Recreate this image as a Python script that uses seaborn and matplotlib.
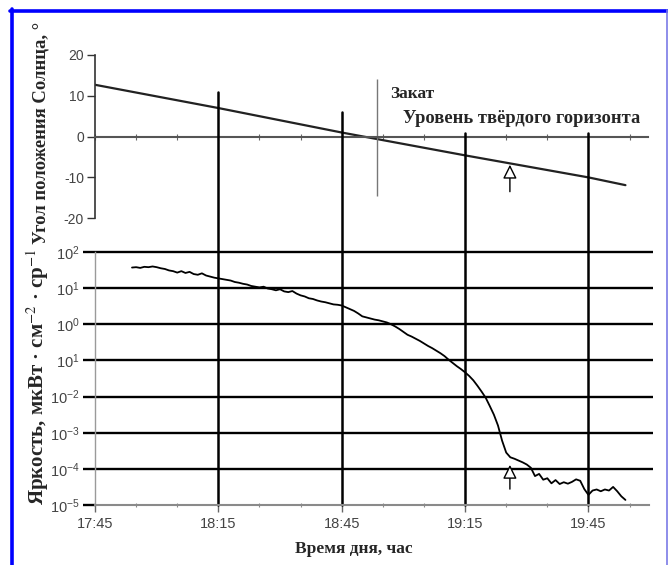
import matplotlib
matplotlib.use("Agg")
import matplotlib.pyplot as plt
import seaborn as sns
import pandas as pd
import numpy as np
from matplotlib.lines import Line2D
from matplotlib.ticker import FixedLocator, MultipleLocator, NullFormatter

# ---------------- data ----------------
time_tick_labels = ["17:45", "18:15", "18:45", "19:15", "19:45"]

# Sun elevation angle (degrees) vs time
sun_times = ["17:45", "18:15", "18:45", "19:15", "19:45", "19:54"]
sun_angle = [12.7, 7.0, 1.0, -4.6, -10.0, -11.9]
angle_ticks = [20, 10, 0, -10, -20]
angle_tick_labels = ["20", "10", "0", "-10", "-20"]

# Brightness: minutes after 17:45 and log10 of brightness
bright_min = [9, 10, 11, 12, 13, 14, 15, 16, 17, 18, 19, 20, 21, 22, 23, 24, 25, 26, 27, 28,
              29, 30, 31, 32, 33, 34, 35, 36, 37, 38, 39, 40, 41, 42, 43, 44, 45, 46, 47, 48,
              49, 50, 51, 52, 53, 54, 55, 56, 57, 58, 59, 60, 61, 62, 63, 64, 65, 66, 67, 68,
              69, 70, 71, 72, 73, 74, 75, 76, 77, 78, 79, 80, 81, 82, 83, 84, 85, 86, 87, 88,
              89, 90, 91, 92, 93, 94, 95, 96, 97, 98, 99, 100, 101, 102, 103, 104, 105, 106, 107, 108,
              109, 110, 111, 112, 113, 114, 115, 116, 117, 118, 119, 120, 121, 122, 123, 124, 125, 126, 127, 128,
              129]
bright_log10 = [1.57, 1.58, 1.56, 1.59, 1.58, 1.60, 1.58, 1.55, 1.53, 1.49, 1.47, 1.43, 1.47, 1.42, 1.45, 1.39, 1.37, 1.41, 1.35, 1.32,
                1.29, 1.27, 1.25, 1.23, 1.21, 1.17, 1.15, 1.12, 1.10, 1.06, 1.04, 1.02, 1.04, 0.99, 0.97, 0.94, 0.97, 0.91, 0.89, 0.92,
                0.85, 0.80, 0.77, 0.72, 0.70, 0.66, 0.63, 0.61, 0.58, 0.55, 0.54, 0.52, 0.47, 0.42, 0.37, 0.30, 0.22, 0.19, 0.16, 0.13,
                0.11, 0.08, 0.05, 0.00, -0.06, -0.13, -0.21, -0.29, -0.34, -0.40, -0.46, -0.53, -0.60, -0.66, -0.73, -0.80, -0.88, -0.98, -1.07, -1.16,
                -1.24, -1.33, -1.43, -1.55, -1.70, -1.86, -2.03, -2.26, -2.50, -2.80, -3.22, -3.55, -3.68, -3.72, -3.77, -3.82, -3.88, -3.97, -4.20, -4.14,
                -4.30, -4.26, -4.40, -4.31, -4.42, -4.37, -4.41, -4.36, -4.29, -4.33, -4.56, -4.72, -4.60, -4.57, -4.62, -4.57, -4.60, -4.50, -4.62, -4.76,
                -4.86]

decade_exponents = [2, 1, 0, -1, -2, -3, -4, -5]
bright_tick_labels = [r"$10^{2}$", r"$10^{1}$", r"$10^{0}$", r"$10^{1}$",
                      r"$10^{-2}$", r"$10^{-3}$", r"$10^{-4}$", r"$10^{-5}$"]

grid_times = ["18:15", "18:45", "19:15", "19:45"]
grid_top_angle = [10.9, 6.0, 0.8, 0.8]

sunset_min = 68.5
sunset_span = [14.2, -14.6]

arrow_min = 100.9
arrow_top = (-6.9, -13.5)            # tip, tail (degrees)
arrow_bot_log10 = (-3.89, -4.56)     # tip, tail (log10 brightness)


def to_min(s):
    h, m = s.split(":")
    return int(h) * 60 + int(m) - (17 * 60 + 45)


# ---------------- style ----------------
sns.set_style("white")
plt.rcParams["font.family"] = ["Liberation Sans", "DejaVu Sans"]
plt.rcParams["mathtext.fontset"] = "custom"
plt.rcParams["mathtext.rm"] = "Liberation Sans"
plt.rcParams["mathtext.it"] = "Liberation Sans:italic"
plt.rcParams["mathtext.bf"] = "Liberation Sans:bold"

SERIF = ["Liberation Serif", "DejaVu Serif"]
W, H = 668, 565
fig = plt.figure(figsize=(W / 100, H / 100), dpi=100)
fig.patch.set_facecolor("white")

XMAX = 135.7
ax_top = fig.add_axes([95 / W, 1 - 218.2 / H, 558 / W, 163.2 / H])
ax_bot = fig.add_axes([95 / W, 1 - 505 / H, 558 / W, 253 / H])

# ---------------- top panel ----------------
sun_df = pd.DataFrame({"t": [to_min(s) for s in sun_times], "angle": sun_angle})
sns.lineplot(data=sun_df, x="t", y="angle", ax=ax_top, color="#222222", lw=1.6, sort=True)
ax_top.set_xlim(0, XMAX)
ax_top.set_ylim(-20, 20)
for s in ["top", "right"]:
    ax_top.spines[s].set_visible(False)
ax_top.spines["left"].set_color("#333333")
ax_top.spines["left"].set_linewidth(1.2)
ax_top.spines["bottom"].set_position(("data", 0))
ax_top.spines["bottom"].set_color("#555555")
ax_top.spines["bottom"].set_linewidth(1.5)
ax_top.spines["bottom"].set_bounds(0, 134.4)
ax_top.set_yticks(angle_ticks)
ax_top.set_yticklabels(angle_tick_labels)
ax_top.tick_params(axis="y", length=6, width=1, color="#333333", labelcolor="#444444",
                   labelsize=10, pad=2, left=True)
ax_top.xaxis.set_major_locator(MultipleLocator(10))
ax_top.xaxis.set_major_formatter(NullFormatter())
ax_top.tick_params(axis="x", direction="inout", length=4, width=0.8, color="#666666", bottom=True)
ax_top.set_xlabel("")
ax_top.set_ylabel("Угол положения Солнца, °", fontfamily=SERIF, fontweight="bold", fontsize=13.4)
ax_top.yaxis.set_label_coords(-54 / 558, 0.525)
ax_top.yaxis.label.set_verticalalignment("center")
ax_top.patch.set_alpha(0)

# sunset line
ax_top.vlines(sunset_min, sunset_span[1], sunset_span[0], color="#777777", lw=1.0)
ax_top.text(71.7, 9.5, "Закат", fontfamily=SERIF, fontweight="bold", fontsize=12.5, va="baseline")
ax_top.text(74.9, 3.3, "Уровень твёрдого горизонта", fontfamily=SERIF, fontweight="bold",
            fontsize=13.3, va="baseline")
ax_top.annotate("", xy=(arrow_min, arrow_top[0]), xytext=(arrow_min, arrow_top[1]),
                arrowprops=dict(arrowstyle="-|>,head_length=0.7,head_width=0.35", fc="white",
                                ec="black", lw=1.0, shrinkA=0, shrinkB=0, mutation_scale=12))

# ---------------- bottom panel ----------------
bright_df = pd.DataFrame({"t": bright_min, "b": [10.0 ** v for v in bright_log10]})
sns.lineplot(data=bright_df, x="t", y="b", ax=ax_bot, color="black", lw=1.3, sort=True)
ax_bot.set_yscale("log")
ax_bot.set_xlim(0, XMAX)
ax_bot.set_ylim(1e-5, 1e2)
for s in ["top", "right"]:
    ax_bot.spines[s].set_visible(False)
ax_bot.spines["left"].set_color("#9a9a9a")
ax_bot.spines["left"].set_linewidth(1.0)
ax_bot.spines["bottom"].set_color("#8a8a8a")
ax_bot.spines["bottom"].set_linewidth(1.5)
ax_bot.spines["bottom"].set_bounds(0, 134.7)

decade_vals = [10.0 ** e for e in decade_exponents]
ax_bot.yaxis.set_major_locator(FixedLocator(decade_vals))
ax_bot.yaxis.set_minor_locator(FixedLocator([]))
ax_bot.set_yticklabels(bright_tick_labels)
ax_bot.tick_params(axis="y", length=9, width=1.7, color="black", labelcolor="#444444",
                   labelsize=10.5, pad=2, left=True)
ax_bot.hlines(decade_vals[:-1], 0, XMAX, color="black", lw=1.7, zorder=1, clip_on=False)

ax_bot.set_xticks([to_min(s) for s in time_tick_labels])
ax_bot.set_xticklabels(time_tick_labels)
ax_bot.xaxis.set_minor_locator(MultipleLocator(10))
ax_bot.tick_params(axis="x", which="major", length=5, width=1, color="#666666",
                   labelcolor="#444444", labelsize=10.5, pad=4, bottom=True)
ax_bot.tick_params(axis="x", which="minor", direction="inout", length=3, width=0.8,
                   color="#888888", bottom=True)
ax_bot.set_xlabel("Время дня, час", fontfamily=SERIF, fontweight="bold", fontsize=12.5)
ax_bot.xaxis.set_label_coords((354 - 95) / 558, -36 / 253)
ax_bot.set_ylabel(r"Яркость, мкВт · см$^{-2}$ · ср$^{-1}$", fontfamily=SERIF, fontweight="bold",
                  fontsize=15, math_fontfamily="stix")
ax_bot.yaxis.set_label_coords(-57 / 558, 0.505)
ax_bot.yaxis.label.set_verticalalignment("center")
ax_bot.patch.set_alpha(0)

# vertical grid lines spanning into the top panel
for t, top_a in zip(grid_times, grid_top_angle):
    x = to_min(t)
    y_disp = ax_top.transData.transform((x, top_a))[1]
    frac = ax_bot.transAxes.inverted().transform((0, y_disp))[1]
    ax_bot.axvline(x, ymin=0, ymax=frac, color="black", lw=1.8, clip_on=False, zorder=1)

ax_bot.annotate("", xy=(arrow_min, 10.0 ** arrow_bot_log10[0]),
                xytext=(arrow_min, 10.0 ** arrow_bot_log10[1]),
                arrowprops=dict(arrowstyle="-|>,head_length=0.7,head_width=0.35", fc="white",
                                ec="black", lw=1.0, shrinkA=0, shrinkB=0, mutation_scale=12))

# ---------------- blue frame ----------------
def fx(px):
    return px / W


def fy(py):
    return 1 - py / H


fig.add_artist(Line2D([fx(11.5), fx(11.5)], [fy(9), fy(565)], color="#0000ff", lw=2.6))
fig.add_artist(Line2D([fx(10), fx(668)], [fy(10.5), fy(10.5)], color="#0000ff", lw=2.6))
fig.add_artist(Line2D([fx(666.5), fx(666.5)], [fy(10), fy(565)], color="#7a7ae6", lw=1.2))

fig.savefig("out.png", dpi=100, facecolor="white")
